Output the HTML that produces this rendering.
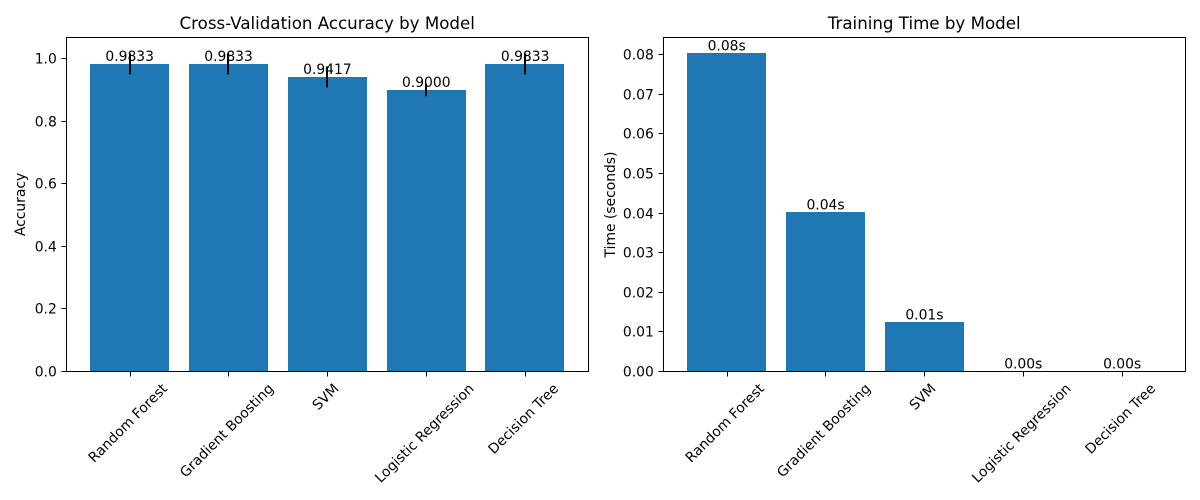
<!DOCTYPE html>
<html lang="en">
<head>
<meta charset="utf-8">
<title>Model comparison</title>
<style>
html,body{margin:0;padding:0;background:#fff;}
svg{display:block;font-family:"DejaVu Sans",sans-serif;fill:#000;}
</style>
</head>
<body>
<svg id="chart" xmlns="http://www.w3.org/2000/svg" width="1200" height="500" viewBox="0 0 1200 500"></svg>
<script>
const categories = ["Random Forest", "Gradient Boosting", "SVM", "Logistic Regression", "Decision Tree"];
const accuracyValues = [0.9833, 0.9833, 0.9417, 0.9000, 0.9833];
const accuracyErrors = [0.0333, 0.0333, 0.0333, 0.0200, 0.0333];
const accuracyLabels = ["0.9833", "0.9833", "0.9417", "0.9000", "0.9833"];
const accuracyTicks = [0.0, 0.2, 0.4, 0.6, 0.8, 1.0];
const accuracyTickLabels = ["0.0", "0.2", "0.4", "0.6", "0.8", "1.0"];
const timeValues = [0.0803, 0.0402, 0.0124, 0.00005, 0.00005];
const timeLabels = ["0.08s", "0.04s", "0.01s", "0.00s", "0.00s"];
const timeTicks = [0.00, 0.01, 0.02, 0.03, 0.04, 0.05, 0.06, 0.07, 0.08];
const timeTickLabels = ["0.00", "0.01", "0.02", "0.03", "0.04", "0.05", "0.06", "0.07", "0.08"];

const NS = "http://www.w3.org/2000/svg";
const svg = document.getElementById("chart");
const BAR_BLUE = "#1f77b4";

function make(parent, tag, attrs) {
  const el = document.createElementNS(NS, tag);
  for (const k in attrs) el.setAttribute(k, attrs[k]);
  parent.appendChild(el);
  return el;
}

function drawPanel(cfg) {
  const g = make(svg, "g", {});
  
  

  const yMax = Math.max(...cfg.values.map((v, i) => v + (cfg.errors ? cfg.errors[i] : 0))) * 1.05;
  const xScale = i => cfg.left - 0.2 + (i + 0.64) / 5.28 * (cfg.right - cfg.left);
  const yScale = v => cfg.bottom - v / yMax * (cfg.bottom - cfg.top);

  // bars (edges snapped to whole pixels)
  cfg.values.forEach((v, i) => {
    const bw = 0.8 / 5.28 * (cfg.right - cfg.left);
    const x0 = Math.round(xScale(i) - bw / 2);
    const x1 = Math.round(xScale(i) + bw / 2 - 0.1);
    const y0 = Math.round(yScale(v));
    const y1 = Math.round(cfg.bottom - 0.5);
    const bar = make(g, "rect", {
      x: x0,
      y: y0,
      width: x1 - x0,
      height: Math.max(0, y1 - y0),
      fill: BAR_BLUE
    });
    
    
  });

  // error bars
  if (cfg.errors) {
    cfg.values.forEach((v, i) => {
      const cx = Math.round(xScale(i));
      const err = make(g, "line", {
        x1: cx, x2: cx,
        y1: yScale(v - cfg.errors[i]),
        y2: yScale(v + cfg.errors[i]),
        stroke: "#000", "stroke-width": 2
      });
      
      
    });
  }

  // value labels
  cfg.labels.forEach((t, i) => {
    const lab = make(g, "text", {
      x: xScale(i) + 0.1, y: yScale(cfg.values[i]) - 3,
      "text-anchor": "middle", "font-size": "13.89px"
    });
    lab.textContent = t;
    
    
  });

  // y ticks
  cfg.ticks.forEach((v, i) => {
    const py = Math.round(yScale(v) - 0.5) + 0.5;
    const tick = make(g, "line", {
      x1: cfg.left - 5, x2: cfg.left, y1: py, y2: py,
      stroke: "#000", "stroke-width": 1, "shape-rendering": "crispEdges"
    });
    
    
    const lab = make(g, "text", {
      x: cfg.left - 9.7, y: py + 5,
      "text-anchor": "end", "font-size": "13.89px"
    });
    lab.textContent = cfg.tickLabels[i];
    
    
  });

  // x ticks and rotated category labels
  categories.forEach((c, i) => {
    const px = Math.round(xScale(i)) + 0.5;
    const tick = make(g, "line", {
      x1: px, x2: px, y1: cfg.bottom, y2: cfg.bottom + 5,
      stroke: "#000", "stroke-width": 1, "shape-rendering": "crispEdges"
    });
    
    
    const lab = make(g, "text", {
      x: 0, y: 0, "text-anchor": "middle", "font-size": "13.89px"
    });
    lab.textContent = c;
    
    
    const w = lab.getComputedTextLength();
    const h = 16;
    const half = (w + h) * Math.SQRT1_2 / 2;
    const cy = cfg.bottom + 8.7 + half;
    lab.setAttribute("transform", "translate(" + (xScale(i) - 2) + "," + cy + ") rotate(-45) translate(0,5)");
  });

  // frame
  const frame = make(g, "rect", {
    x: cfg.left, y: cfg.top,
    width: cfg.right - cfg.left, height: cfg.bottom - cfg.top,
    fill: "none", stroke: "#000", "stroke-width": 1, "shape-rendering": "crispEdges"
  });
  
  

  // title
  const title = make(g, "text", {
    x: (cfg.left + cfg.right) / 2 - 0.3, y: 29,
    "text-anchor": "middle", "font-size": "16.67px"
  });
  title.textContent = cfg.title;
  
  

  // y axis title
  const yTitle = make(g, "text", {
    "text-anchor": "middle", "font-size": "13.89px",
    transform: "translate(" + cfg.yTitleX + "," + (cfg.top + cfg.bottom) / 2 + ") rotate(-90)"
  });
  yTitle.textContent = cfg.yTitle;
  
  
}

drawPanel({
  name: "accuracy-panel",
  title: "Cross-Validation Accuracy by Model",
  yTitle: "Accuracy",
  yTitleX: 25,
  left: 66.5, right: 588.5, top: 37.5, bottom: 371.5,
  values: accuracyValues,
  errors: accuracyErrors,
  labels: accuracyLabels,
  ticks: accuracyTicks,
  tickLabels: accuracyTickLabels
});

drawPanel({
  name: "training-time-panel",
  title: "Training Time by Model",
  yTitle: "Time (seconds)",
  yTitleX: 615,
  left: 663.5, right: 1185.5, top: 37.5, bottom: 371.5,
  values: timeValues,
  errors: null,
  labels: timeLabels,
  ticks: timeTicks,
  tickLabels: timeTickLabels
});
</script>
</body>
</html>
